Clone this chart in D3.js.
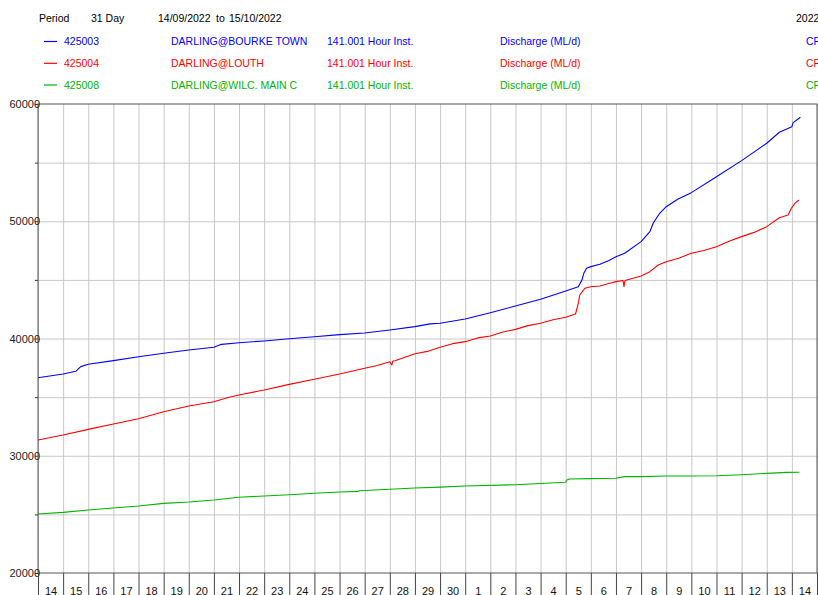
<!DOCTYPE html>
<html>
<head>
<meta charset="utf-8">
<script src="https://cdnjs.cloudflare.com/ajax/libs/d3/7.8.5/d3.min.js"></script>
<style>
  body { margin: 0; background: #fff; }
  svg { font-family: "Liberation Sans", Arial, sans-serif; display: block; }
</style>
</head>
<body>
<div id="chart"></div>
<script>
// chart values (days counted from 14/09/2022 00:00)
var siteCodes = ["425003", "425004", "425008"];
var siteNames = ["DARLING@BOURKE TOWN", "DARLING@LOUTH", "DARLING@WILC. MAIN C"];
var siteVar = "141.001 Hour Inst.";
var siteUnit = "Discharge (ML/d)";
var siteQual = "CP";
var siteColors = ["#0000ff", "#ff0000", "#00b400"];

var bourkeDays = [0, 1, 1.5, 1.7, 2, 3, 4, 5, 6, 7, 7.3, 8, 9, 10, 11, 12, 13, 14, 15, 15.6, 16, 17, 18, 19, 20, 21,
    21.5, 21.65, 21.72, 21.83, 22, 22.36, 22.7, 23, 23.35, 24, 24.35, 24.48, 24.74, 25, 25.47, 26, 27, 28, 29, 29.5, 30, 30.05, 30.34];
var bourkeFlow = [36650, 36970, 37200, 37600, 37800, 38110, 38450, 38740, 39020, 39250, 39500, 39640, 39790, 39980, 40150, 40330, 40470, 40730, 41010, 41250, 41300, 41660, 42200, 42770, 43340, 44050,
    44420, 45000, 45560, 45990, 46130, 46330, 46640, 46980, 47270, 48260, 49110, 49830, 50680, 51240, 51900, 52440, 53800, 55170, 56650, 57590, 58070, 58410, 58870];

var louthDays = [0, 1, 2, 3, 4, 5, 6, 7, 7.6, 8, 9, 10, 11, 12, 13, 13.5, 14, 14.08, 14.12, 14.2, 15, 15.5, 16, 16.5, 17, 17.5, 18, 18.5, 19, 19.5, 20, 20.5, 21,
    21.39, 21.5, 21.56, 21.76, 22, 22.36, 22.75, 23, 23.28, 23.32, 23.36, 24, 24.35, 24.68, 25, 25.5, 26, 26.5, 27, 27.5, 28, 28.5, 29, 29.5, 29.85, 29.98, 30.12, 30.28];
var louthFlow = [31340, 31770, 32250, 32710, 33160, 33760, 34240, 34610, 34990, 35180, 35610, 36090, 36520, 36970, 37460, 37700, 38020, 37740, 38080, 38100, 38700, 38900, 39250, 39560, 39730, 40050, 40210, 40550, 40780, 41100, 41300, 41600, 41810,
    42090, 43000, 43710, 44280, 44420, 44480, 44710, 44850, 44950, 44420, 44950, 45330, 45700, 46270, 46550, 46850, 47270, 47500, 47830, 48300, 48690, 49050, 49540, 50300, 50540, 51110, 51530, 51810];

var wilcDays = [0, 1, 2, 3, 4, 5, 6, 7, 8, 9, 10, 11, 12, 12.75, 12.8, 13, 14, 15, 16, 17, 19, 21, 21.03, 21.15, 22, 23, 23.35, 24, 25, 26, 27, 28, 29, 29.8, 30.3];
var wilcFlow = [25030, 25170, 25370, 25540, 25710, 25940, 26060, 26230, 26460, 26570, 26680, 26800, 26910, 26960, 27020, 27040, 27140, 27250, 27320, 27420, 27530, 27740, 27900, 28020, 28050, 28080, 28220, 28220, 28270, 28270, 28300, 28380, 28500, 28580, 28590];

var yLabelTicks = [20000, 30000, 40000, 50000, 60000];

var svgWidth = 818;
var svgHeight = 595;

var margin = { top: 104, right: 1, bottom: 22, left: 38 };
var width = svgWidth - margin.left - margin.right;
var height = svgHeight - margin.top - margin.bottom;

var svg = d3.select("#chart")
    .append("svg")
    .attr("width", svgWidth)
    .attr("height", svgHeight);

var startDate = new Date(2022, 8, 14);
var endDate = new Date(2022, 9, 15);
var toDate = d => new Date(startDate.getTime() + d * 86400000);

var xTimeScale = d3.scaleTime()
    .domain([startDate, endDate])
    .range([0, width]);

var yLinearScale = d3.scaleLinear()
    .domain([20000, 60000])
    .range([height, 0]);

const chartGroup = svg.append("g")
    .attr("transform", `translate(${margin.left}, ${margin.top})`);

// header
var header = svg.append("g").attr("font-size", "10.5px").attr("fill", "#000");
header.append("text").attr("x", 39).attr("y", 22).text("Period");
header.append("text").attr("x", 91).attr("y", 22).text("31 Day");
header.append("text").attr("x", 158).attr("y", 22).text("14/09/2022");
header.append("text").attr("x", 216).attr("y", 22).text("to");
header.append("text").attr("x", 229).attr("y", 22).text("15/10/2022");
header.append("text").attr("x", 796).attr("y", 22).text("2022");

// legend rows
var legendY = [41.5, 63.3, 85];
siteCodes.forEach((code, i) => {
    var row = svg.append("g")
        .attr("transform", `translate(0, ${legendY[i]})`)
        .attr("fill", siteColors[i])
        .attr("font-size", "10.5px");
    row.append("line").attr("x1", 44).attr("x2", 57).attr("y1", 0).attr("y2", 0)
        .attr("stroke", siteColors[i]).attr("stroke-width", 1.2);
    row.append("text").attr("x", 64).attr("y", 3.5).text(code);
    row.append("text").attr("x", 171).attr("y", 3.5).text(siteNames[i]);
    row.append("text").attr("x", 327).attr("y", 3.5).text(siteVar);
    row.append("text").attr("x", 500).attr("y", 3.5).text(siteUnit);
    row.append("text").attr("x", 806).attr("y", 3.5).text(siteQual);
});

// grid
chartGroup.append("g")
    .attr("class", "xgrid")
    .call(d3.axisBottom(xTimeScale).ticks(d3.timeDay.every(1)).tickSize(height).tickFormat(""))
    .call(g => g.select(".domain").remove())
    .selectAll("line").attr("stroke", "#c8c8c8");

var gridVals = d3.range(25000, 60000, 5000);
chartGroup.append("g")
    .attr("class", "ygrid")
    .call(d3.axisLeft(yLinearScale).tickValues(gridVals).tickSize(-width).tickFormat(""))
    .call(g => g.select(".domain").remove())
    .selectAll("line").attr("stroke", "#c8c8c8");

// small left ticks
chartGroup.append("g")
    .call(d3.axisLeft(yLinearScale).tickValues(d3.range(20000, 60001, 5000)).tickSize(3).tickFormat(""))
    .call(g => g.select(".domain").remove())
    .selectAll("line").attr("stroke", "#333");

// lines
var lineGen = d3.line()
    .x(d => xTimeScale(toDate(d[0])))
    .y(d => yLinearScale(d[1]));

var seriesList = [
    d3.zip(bourkeDays, bourkeFlow),
    d3.zip(louthDays, louthFlow),
    d3.zip(wilcDays, wilcFlow)
];

seriesList.forEach((s, i) => {
    chartGroup.append("path")
        .datum(s)
        .attr("d", lineGen)
        .attr("fill", "none")
        .attr("stroke", siteColors[i])
        .attr("stroke-width", 1.1)
        .attr("stroke-linejoin", "round");
});

// frame
chartGroup.append("rect")
    .attr("x", 0).attr("y", 0)
    .attr("width", width).attr("height", height)
    .attr("fill", "none")
    .attr("stroke", "#555");

// y labels
chartGroup.append("g")
    .call(d3.axisLeft(yLinearScale).tickValues(yLabelTicks).tickSize(0).tickPadding(-2).tickFormat(d3.format("d")))
    .call(g => g.select(".domain").remove())
    .selectAll("text")
    .attr("font-size", "11px")
    .attr("font-family", "Liberation Sans, Arial, sans-serif")
    .attr("fill", "#222");

// bottom day strip: separators and day numbers
chartGroup.append("g")
    .attr("transform", `translate(0, ${height})`)
    .call(d3.axisBottom(xTimeScale).ticks(d3.timeDay.every(1)).tickSize(margin.bottom).tickFormat(""))
    .call(g => g.select(".domain").remove())
    .selectAll("line").attr("stroke", "#444");

var noonTicks = d3.timeDay.range(startDate, endDate).map(d => d3.timeHour.offset(d, 12));
chartGroup.append("g")
    .attr("transform", `translate(0, ${height})`)
    .call(d3.axisBottom(xTimeScale).tickValues(noonTicks).tickSize(0).tickFormat(d3.timeFormat("%-d")))
    .call(g => g.select(".domain").remove())
    .selectAll("text")
    .attr("y", 21.5)
    .attr("dy", 0)
    .attr("font-size", "11px")
    .attr("font-family", "Liberation Sans, Arial, sans-serif")
    .attr("fill", "#111");
</script>
</body>
</html>
